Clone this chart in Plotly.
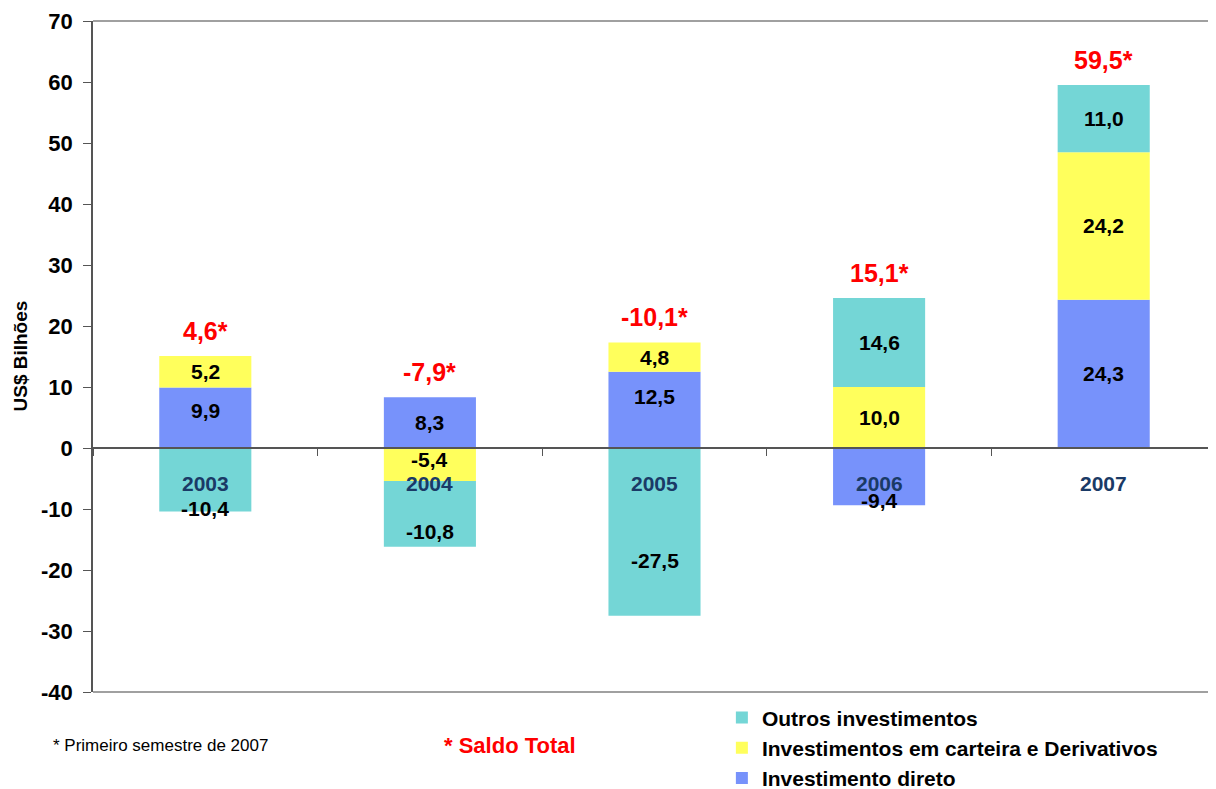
import plotly.graph_objects as go

# dados (US$ bilhões)
anos = ['2003', '2004', '2005', '2006', '2007']
inv_direto = [9.9, 8.3, 12.5, -9.4, 24.3]
inv_carteira = [5.2, -5.4, 4.8, 10.0, 24.2]
outros_inv = [-10.4, -10.8, -27.5, 14.6, 11.0]
saldo_total = [4.6, -7.9, -10.1, 15.1, 59.5]

y_ticks = [-40, -30, -20, -10, 0, 10, 20, 30, 40, 50, 60, 70]

series = [
    ('Investimento direto', inv_direto, '#7792fb'),
    ('Investimentos em carteira e Derivativos', inv_carteira, '#ffff5c'),
    ('Outros investimentos', outros_inv, '#74d6d6'),
]

# deslocamento (px) dos rótulos dentro das barras, por série/ano
label_shift = [
    [7, 0, 13, -24, 0],
    [0, 5, 0, 0, 0],
    [-29, -18, -29, 0, 0],
]

FONT = 'Arial, Liberation Sans, sans-serif'

fig = go.Figure()
for i, (name, vals, col) in enumerate(series):
    fig.add_trace(go.Bar(x=anos, y=vals, name=name, marker_color=col,
                         marker_line_width=0, legendgroup=name))

fig.update_layout(barmode='relative', bargap=0.59)

# rótulos dos segmentos, centro calculado a partir do empilhamento
# (x como índice da categoria, senão '2003' vira número)
pos = [0.0] * len(anos)
neg = [0.0] * len(anos)
for i, (name, vals, col) in enumerate(series):
    for j, v in enumerate(vals):
        if v >= 0:
            c = pos[j] + v / 2
            pos[j] += v
        else:
            c = neg[j] + v / 2
            neg[j] += v
        fig.add_annotation(x=j, y=c, text=f'{v:.1f}'.replace('.', ','),
                           showarrow=False, yshift=label_shift[i][j],
                           font=dict(family=FONT, size=21, color='black', weight='bold'))

# saldo total acima das barras
for j, s in enumerate(saldo_total):
    fig.add_annotation(x=j, y=pos[j], text=f'{s:.1f}*'.replace('.', ','),
                       showarrow=False, yanchor='bottom', yshift=9,
                       font=dict(family=FONT, size=25, color='red', weight='bold'))

# anos junto à linha do zero
for j, a in enumerate(anos):
    fig.add_annotation(x=j, y=0, text=a, showarrow=False, yshift=-35,
                       font=dict(family=FONT, size=21, color='#1a3a66', weight='bold'))

# título do eixo y
fig.add_annotation(xref='paper', yref='paper', x=-0.065, y=0.5, xanchor='center',
                   textangle=-90, text='US$ Bilhões', showarrow=False,
                   font=dict(family=FONT, size=19, color='black', weight='bold'))

fig.add_annotation(xref='paper', yref='paper', x=-0.037, y=-0.097, xanchor='left',
                   text='* Primeiro semestre de 2007', showarrow=False,
                   font=dict(family=FONT, size=17, color='black'))
fig.add_annotation(xref='paper', yref='paper', x=0.311, y=-0.101, xanchor='left',
                   text='* Saldo Total', showarrow=False,
                   font=dict(family=FONT, size=22, color='red', weight='bold'))

# linhas de moldura em cima e em baixo
for yy in (0, 1):
    fig.add_shape(type='line', xref='paper', yref='paper', x0=0, x1=1, y0=yy, y1=yy,
                  line=dict(color='#808080', width=1.5))

fig.update_xaxes(type='category', range=[-0.5, len(anos) - 0.5], anchor='free',
                 position=40 / 110, showline=True,
                 linecolor='#555555', linewidth=1.5, ticks='outside',
                 tickson='boundaries', ticklen=7, tickcolor='#555555',
                 showticklabels=False, showgrid=False, automargin=False)
fig.update_yaxes(range=[-40, 70], tickvals=y_ticks, ticktext=[str(t) for t in y_ticks],
                 showgrid=False, zeroline=False, automargin=False,
                 showline=True, linecolor='#555555', linewidth=1.5,
                 ticks='outside', ticklen=8, tickcolor='#555555', ticklabelstandoff=6,
                 tickfont=dict(family=FONT, size=22, color='black', weight='bold'))

# a página tem 8px de margem no body: compensado aqui
fig.update_layout(
    width=1208, height=781,
    margin=dict(l=85, r=0, t=13, b=97, autoexpand=False),
    plot_bgcolor='white', paper_bgcolor='white',
    font=dict(family=FONT),
    legend=dict(x=0.56, y=-0.008, xanchor='left', yanchor='top', traceorder='reversed',
                tracegroupgap=5, bgcolor='rgba(0,0,0,0)', borderwidth=0,
                font=dict(family=FONT, size=21, color='black', weight='bold')),
)

fig.write_html('out.html')
